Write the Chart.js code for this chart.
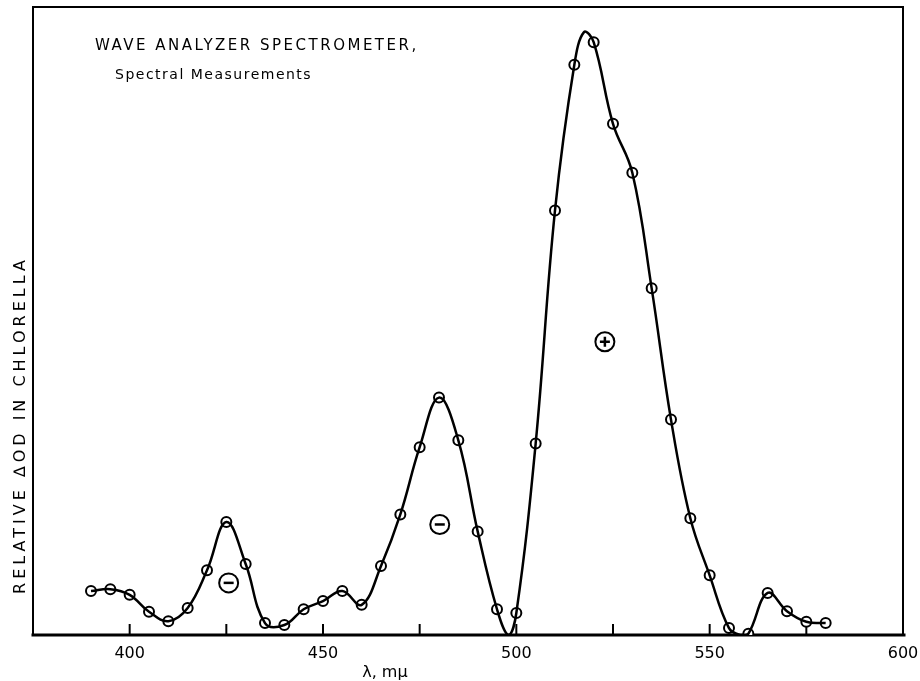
<!DOCTYPE html>
<html>
<head>
<meta charset="utf-8">
<script src="https://cdn.jsdelivr.net/npm/chart.js@4.4.1/dist/chart.umd.min.js"></script>
<style>
  html, body { margin: 0; padding: 0; background: #fff; }
  #wrap { width: 920px; height: 681px; }
</style>
</head>
<body>
<div id="wrap"><canvas id="spectrum"></canvas></div>
<script>
// measured points (wavelength in m\u03bc, relative change in OD)
const wavelengths = [390, 395, 400, 405, 410, 415, 420, 425, 430, 435, 440, 445, 450, 455, 460, 465,
  470, 475, 480, 485, 490, 495, 500, 505, 510, 515, 520, 525, 530, 535, 540, 545, 550, 555, 560,
  565, 570, 575, 580];
const deltaOD = [7.0, 7.3, 6.4, 3.7, 2.2, 4.3, 10.3, 18.0, 11.3, 1.9, 1.6, 4.1, 5.4, 7.0, 4.8, 11.0,
  19.2, 29.9, 37.8, 31.0, 16.5, 4.1, 3.5, 30.5, 67.6, 90.8, 94.4, 81.4, 73.6, 55.2, 34.3, 18.6, 9.5, 1.1, 0.2,
  6.7, 3.8, 2.1, 1.9];
// where the drawn curve touches zero / tops out between measured points
const curveOnlyX = [498, 517.5, 558];
const curveOnlyY = [0, 96.0, 0];

const xTicks = [400, 450, 500, 550, 600];

// sign markers on the lobes
const signText = ['-', '-', '+'];
const signX = [425.6, 480.2, 522.9];
const signY = [8.3, 17.6, 46.7];

const measured = wavelengths.map((w, i) => ({ x: w, y: deltaOD[i] }));
const curve = measured
  .concat(curveOnlyX.map((w, i) => ({ x: w, y: curveOnlyY[i] })))
  .sort((a, b) => a.x - b.x);

const decorations = {
  id: 'decorations',
  beforeDatasetsDraw(chart) {
    const { ctx, chartArea: a, scales: { x } } = chart;
    ctx.save();
    ctx.strokeStyle = '#000';
    ctx.lineCap = 'square';
    // frame
    ctx.lineWidth = 2;
    ctx.beginPath();
    ctx.moveTo(a.left, a.bottom);
    ctx.lineTo(a.left, a.top);
    ctx.lineTo(a.right, a.top);
    ctx.lineTo(a.right, a.bottom);
    ctx.stroke();
    ctx.lineWidth = 3;
    ctx.beginPath();
    ctx.moveTo(a.left, a.bottom);
    ctx.lineTo(a.right + 1, a.bottom);
    ctx.stroke();
    // inward tick marks
    ctx.lineWidth = 2;
    x.ticks.forEach(t => {
      const px = x.getPixelForValue(t.value);
      ctx.beginPath();
      ctx.moveTo(px, a.bottom);
      ctx.lineTo(px, a.bottom - 10);
      ctx.stroke();
    });
    ctx.restore();
  },
  afterDraw(chart) {
    const { ctx, scales: { x, y } } = chart;
    ctx.save();
    ctx.fillStyle = '#000';
    ctx.strokeStyle = '#000';

    // title block
    ctx.textAlign = 'left';
    ctx.textBaseline = 'alphabetic';
    ctx.font = '15px "DejaVu Sans"';
    ctx.letterSpacing = '2.5px';
    ctx.fillText('WAVE ANALYZER SPECTROMETER,', 95, 50);
    ctx.font = '14px "DejaVu Sans"';
    ctx.letterSpacing = '1.5px';
    ctx.fillText('Spectral Measurements', 115, 79);

    // y title
    ctx.save();
    ctx.translate(25, 425);
    ctx.rotate(-Math.PI / 2);
    ctx.textAlign = 'center';
    ctx.font = '16px "DejaVu Sans"';
    ctx.letterSpacing = '4px';
    ctx.fillText('RELATIVE \u2206OD IN CHLORELLA', 0, 0);
    ctx.restore();

    // x title
    ctx.textAlign = 'center';
    ctx.font = '16px "DejaVu Sans"';
    ctx.letterSpacing = '0px';
    ctx.fillText('\u03bb, m\u03bc', x.getPixelForValue(466), 677);

    // sign circles
    signText.forEach((s, i) => {
      const cx = x.getPixelForValue(signX[i]);
      const cy = y.getPixelForValue(signY[i]);
      ctx.lineWidth = 2;
      ctx.beginPath();
      ctx.arc(cx, cy, 9.5, 0, Math.PI * 2);
      ctx.stroke();
      ctx.lineWidth = 2.5;
      ctx.beginPath();
      ctx.moveTo(cx - 5, cy);
      ctx.lineTo(cx + 5, cy);
      if (s === '+') {
        ctx.moveTo(cx, cy - 5);
        ctx.lineTo(cx, cy + 5);
      }
      ctx.stroke();
    });
    ctx.restore();
  }
};

new Chart(document.getElementById('spectrum'), {
  type: 'scatter',
  data: {
    datasets: [{
      data: curve,
      showLine: true,
      borderColor: '#000',
      borderWidth: 2.5,
      tension: 0.4,
      pointRadius: 0,
      pointHoverRadius: 0
    }, {
      data: measured,
      showLine: false,
      pointRadius: 5,
      pointBorderWidth: 2,
      pointBorderColor: '#000',
      pointBackgroundColor: '#fff'
    }]
  },
  options: {
    responsive: true,
    maintainAspectRatio: false,
    animation: false,
    layout: { padding: { left: 33, right: 17, top: 6, bottom: 0 } },
    plugins: {
      legend: { display: false },
      tooltip: { enabled: false }
    },
    scales: {
      x: {
        type: 'linear',
        min: 375,
        max: 600,
        afterFit: scale => {
          scale.height = 46;
          scale.paddingLeft = 0;
          scale.paddingRight = 0;
        },
        afterBuildTicks: scale => {
          const t = [];
          for (let v = 375; v <= 600; v += 25) t.push({ value: v });
          scale.ticks = t;
        },
        grid: { display: false, drawTicks: false },
        border: { display: false },
        ticks: {
          padding: 9,
          color: '#000',
          maxRotation: 0,
          autoSkip: false,
          font: { family: 'DejaVu Sans', size: 16 },
          callback: v => xTicks.includes(v) ? String(v) : ''
        }
      },
      y: {
        display: false,
        min: 0,
        max: 100
      }
    }
  },
  plugins: [decorations]
});
</script>
</body>
</html>
